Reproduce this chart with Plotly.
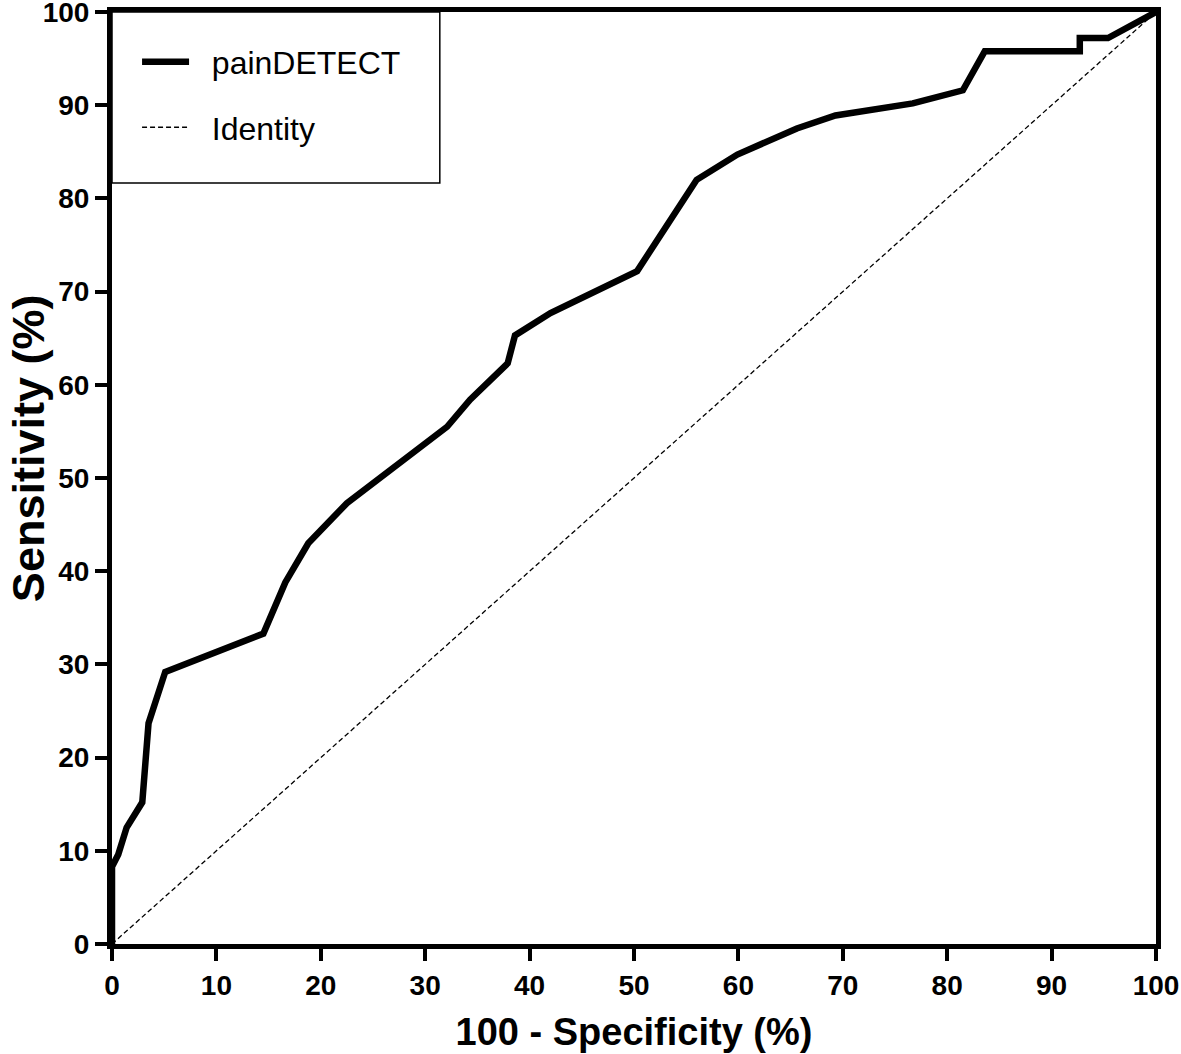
import plotly.graph_objects as go

# ROC curve
fpr = [0, 0, 0.6, 1.4, 2.9, 3.5, 5.1, 14.5, 16.6, 18.8, 22.5, 28.8, 32.1, 34.3,
       37.9, 38.6, 42.0, 50.3, 56.0, 59.9, 65.6, 69.3, 76.7, 81.5, 83.6, 92.7,
       92.7, 95.4, 100]
sens = [0, 8.3, 9.6, 12.5, 15.2, 23.7, 29.2, 33.3, 38.8, 43.0, 47.3, 52.7, 55.5,
        58.4, 62.3, 65.3, 67.7, 72.2, 82.0, 84.7, 87.5, 88.9, 90.2, 91.6, 95.8,
        95.8, 97.2, 97.2, 100]
identity_x = [0, 100]
identity_y = [0, 100]
ticks = [0, 10, 20, 30, 40, 50, 60, 70, 80, 90, 100]

FONT = "Liberation Sans, Arial"

fig = go.Figure()
fig.add_trace(go.Scatter(x=identity_x, y=identity_y, mode="lines",
                         name="\u00a0\u00a0Identity",
                         line=dict(color="black", width=1.3, dash="5px,3px"),
                         legendrank=2, legendgroup="b", cliponaxis=False))
fig.add_trace(go.Scatter(x=fpr, y=sens, mode="lines",
                         name="\u00a0\u00a0painDETECT",
                         line=dict(color="black", width=6.5),
                         legendrank=1, legendgroup="a", cliponaxis=False))

axis_common = dict(range=[0, 100], tickvals=ticks, showgrid=False, zeroline=False,
                   showline=True, mirror=True, linecolor="black", linewidth=5,
                   ticks="outside", ticklen=12, tickwidth=4, tickcolor="black",
                   automargin=False, ticklabeloverflow="allow",
                   tickfont=dict(family=FONT, size=28, color="black", weight="bold"))

fig.update_layout(
    width=1181, height=1054,
    margin=dict(l=112, r=25, t=12, b=110),
    plot_bgcolor="white", paper_bgcolor="white",
    xaxis=dict(axis_common,
               title=dict(text="<b>100 - Specificity (%)</b>", standoff=20,
                          font=dict(family=FONT, size=38, color="black"))),
    yaxis=dict(axis_common),
    annotations=[dict(text="<b>Sensitivity (%)</b>", xref="paper", yref="paper",
                      x=-0.0805, y=0.532, xanchor="center", yanchor="middle",
                      textangle=-90, showarrow=False,
                      font=dict(family=FONT, size=45, color="black"))],
    legend=dict(x=0.024, y=0.976, xanchor="left", yanchor="top",
                traceorder="grouped", tracegroupgap=21, itemwidth=47,
                bgcolor="rgba(0,0,0,0)", borderwidth=0,
                font=dict(family=FONT, size=32, color="black")),
    shapes=[dict(type="rect", xref="paper", yref="paper", x0=0, x1=0.314,
                 y0=0.8165, y1=1, line=dict(color="black", width=1.5),
                 fillcolor="white", layer="below")],
)

fig.write_html("out.html", config={"displayModeBar": False},
               post_script="document.body.style.margin='0';document.body.style.overflow='hidden';")
